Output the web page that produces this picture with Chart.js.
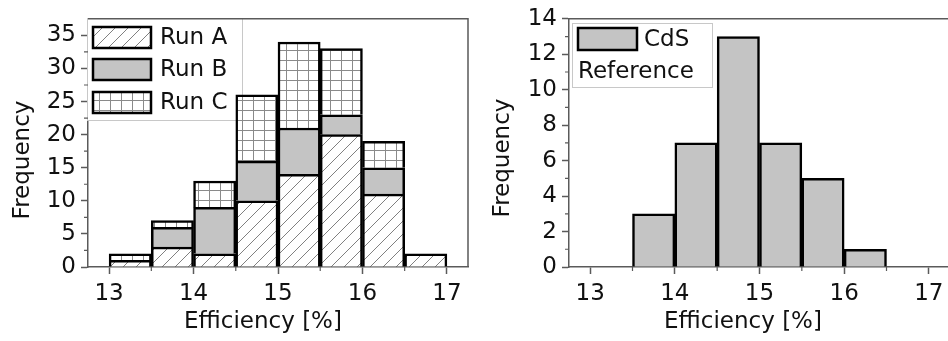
<!DOCTYPE html>
<html><head><meta charset="utf-8">
<script src="https://cdn.jsdelivr.net/npm/chart.js@4.4.0/dist/chart.umd.min.js"></script>
<style>
html,body{margin:0;padding:0;background:#fff;overflow:hidden;width:948px;height:341px}
#wrap{position:relative;width:948px;height:341px;overflow:hidden;background:#fff}
#c1{position:absolute;left:0;top:0}
#c2{position:absolute;left:474px;top:0}
</style></head><body>
<div id="wrap">
<canvas id="c1" width="474" height="341"></canvas>
<canvas id="c2" width="480" height="341"></canvas>
</div>
<script>
// ---- data ----
const binCenters = [13.25, 13.75, 14.25, 14.75, 15.25, 15.75, 16.25, 16.75];
const runA = [1, 3, 2, 10, 14, 20, 11, 2];
const runB = [0, 3, 7, 6, 7, 3, 4, 0];
const runC = [1, 1, 4, 10, 13, 10, 4, 0];
const cdsRef = [0, 3, 7, 13, 7, 5, 1, 0];
const xTicks = [13, 14, 15, 16, 17];
const yTicksLeft = [0, 5, 10, 15, 20, 25, 30, 35];
const yTicksRight = [0, 2, 4, 6, 8, 10, 12, 14];
const legendLeft = ['Run A', 'Run B', 'Run C'];
const legendRight = ['CdS', 'Reference'];
const xTitle = 'Efficiency [%]';
const yTitle = 'Frequency';

const FONT = '"DejaVu Sans", "Liberation Sans", Arial, sans-serif';
const GRAY = '#c4c4c4';
const AXIS = '#5a5a5a';

function diagPattern(ctx) {
  const s = 13, c = document.createElement('canvas');
  c.width = s; c.height = s;
  const g = c.getContext('2d');
  g.fillStyle = '#fff'; g.fillRect(0, 0, s, s);
  g.strokeStyle = '#808080'; g.lineWidth = 1;
  g.beginPath();
  g.moveTo(-1, s + 1); g.lineTo(s + 1, -1);
  g.moveTo(-2, 2); g.lineTo(2, -2);
  g.moveTo(s - 2, s + 2); g.lineTo(s + 2, s - 2);
  g.stroke();
  return ctx.createPattern(c, 'repeat');
}
function gridPattern(ctx) {
  const w = 11, h = 10, c = document.createElement('canvas');
  c.width = w; c.height = h;
  const g = c.getContext('2d');
  g.fillStyle = '#fff'; g.fillRect(0, 0, w, h);
  g.strokeStyle = '#8a8a8a'; g.lineWidth = 1;
  g.beginPath();
  g.moveTo(0.5, 0); g.lineTo(0.5, h);
  g.moveTo(0, 0.5); g.lineTo(w, 0.5);
  g.stroke();
  return ctx.createPattern(c, 'repeat');
}

const ctx1 = document.getElementById('c1').getContext('2d');
const ctx2 = document.getElementById('c2').getContext('2d');
const patA = diagPattern(ctx1);
const patC = gridPattern(ctx1);

function pts(arr) { return binCenters.map((x, i) => ({ x: x, y: arr[i] })); }

function makeScales(yMax, yTicks, yWidth) {
  return {
    x: {
      type: 'linear', min: 12.75, max: 17.25, stacked: true, offset: false,
      afterBuildTicks: s => { s.ticks = xTicks.map(v => ({ value: v })); },
      afterFit: s => { s.height = 74; },
      grid: { drawOnChartArea: false, drawTicks: true, tickLength: 7, tickColor: AXIS, tickWidth: 1.5, offset: false },
      border: { color: AXIS, width: 1.5 },
      ticks: { font: { family: FONT, size: 23 }, color: '#111', padding: 6, maxRotation: 0, autoSkip: false }
    },
    y: {
      type: 'linear', min: 0, max: yMax, stacked: true,
      afterBuildTicks: s => { s.ticks = yTicks.map(v => ({ value: v })); },
      afterFit: s => { s.width = yWidth; },
      grid: { drawOnChartArea: false, drawTicks: true, tickLength: 7, tickColor: AXIS, tickWidth: 1.5 },
      border: { color: AXIS, width: 1.5 },
      ticks: { font: { family: FONT, size: 23 }, color: '#111', padding: 5, autoSkip: false }
    }
  };
}

const framePlugin = {
  id: 'frame',
  afterDraw(chart, args, opts) {
    const { ctx, chartArea: a, scales } = chart;
    ctx.save();
    ctx.strokeStyle = AXIS; ctx.lineWidth = 1.5;
    ctx.beginPath();
    ctx.moveTo(a.left, a.top); ctx.lineTo(a.right, a.top); ctx.lineTo(a.right, a.bottom);
    ctx.stroke();
    // minor ticks
    ctx.lineWidth = 1.2;
    ctx.beginPath();
    const xt = xTicks;
    for (let i = 0; i < xt.length - 1; i++) {
      const px = scales.x.getPixelForValue((xt[i] + xt[i + 1]) / 2);
      ctx.moveTo(px, a.bottom); ctx.lineTo(px, a.bottom + 4);
    }
    const yt = opts.yTicks;
    for (let i = 0; i < yt.length - 1; i++) {
      const py = scales.y.getPixelForValue((yt[i] + yt[i + 1]) / 2);
      ctx.moveTo(a.left, py); ctx.lineTo(a.left - 4, py);
    }
    ctx.stroke();
    // axis titles
    ctx.fillStyle = '#111';
    ctx.font = '23px ' + FONT;
    ctx.textAlign = 'center'; ctx.textBaseline = 'alphabetic';
    ctx.fillText(xTitle, opts.xTitleX, 328);
    ctx.save();
    ctx.translate(opts.yTitleX, opts.yTitleY);
    ctx.rotate(-Math.PI / 2);
    ctx.fillText(yTitle, 0, 0);
    ctx.restore();
    ctx.restore();
  }
};

const legendPlugin = {
  id: 'boxLegend',
  beforeDatasetsDraw(chart, args, opts) {
    const ctx = chart.ctx;
    ctx.save();
    const f = opts.frame;
    ctx.fillStyle = '#fff';
    ctx.fillRect(f[0], f[1], f[2], f[3]);
    ctx.strokeStyle = '#c8c8c8'; ctx.lineWidth = 1;
    ctx.strokeRect(f[0] + 0.5, f[1] + 0.5, f[2], f[3]);
    ctx.font = '23px ' + FONT;
    ctx.textBaseline = 'middle'; ctx.textAlign = 'left';
    opts.items.forEach(it => {
      if (it.box) {
        ctx.fillStyle = it.fill;
        ctx.fillRect(it.box[0], it.box[1], it.box[2], it.box[3]);
        ctx.strokeStyle = '#000'; ctx.lineWidth = 2.5;
        ctx.strokeRect(it.box[0], it.box[1], it.box[2], it.box[3]);
      }
      ctx.fillStyle = '#111';
      ctx.fillText(it.text, it.tx, it.ty);
    });
    ctx.restore();
  }
};

const barCommon = { borderColor: '#000', borderWidth: 2.5, barPercentage: 1, categoryPercentage: 1, borderSkipped: 'start' };

new Chart(ctx1, {
  type: 'bar',
  data: {
    datasets: [
      Object.assign({ label: legendLeft[0], data: pts(runA), backgroundColor: patA }, barCommon),
      Object.assign({ label: legendLeft[1], data: pts(runB), backgroundColor: GRAY }, barCommon),
      Object.assign({ label: legendLeft[2], data: pts(runC), backgroundColor: patC }, barCommon)
    ]
  },
  options: {
    responsive: false, animation: false,
    layout: { padding: { top: 15, right: 6, left: 0, bottom: 0 } },
    scales: makeScales(37.5, yTicksLeft, 88),
    plugins: {
      legend: { display: false }, tooltip: { enabled: false },
      frame: { yTicks: yTicksLeft, xTitleX: 263, yTitleX: 29, yTitleY: 160 },
      boxLegend: {
        frame: [87, 18, 155, 102],
        items: [
          { box: [93, 27, 58, 21], fill: patA, text: legendLeft[0], tx: 160, ty: 38 },
          { box: [93, 59, 58, 21], fill: GRAY, text: legendLeft[1], tx: 160, ty: 70 },
          { box: [93, 92, 58, 21], fill: patC, text: legendLeft[2], tx: 160, ty: 103 }
        ]
      }
    }
  },
  plugins: [legendPlugin, framePlugin]
});

new Chart(ctx2, {
  type: 'bar',
  data: {
    datasets: [
      Object.assign({ label: legendRight.join(' '), data: pts(cdsRef), backgroundColor: GRAY }, barCommon)
    ]
  },
  options: {
    responsive: false, animation: false,
    layout: { padding: { top: 15, right: 4, left: 0, bottom: 0 } },
    scales: makeScales(14, yTicksRight, 95),
    plugins: {
      legend: { display: false }, tooltip: { enabled: false },
      frame: { yTicks: yTicksRight, xTitleX: 269, yTitleX: 35, yTitleY: 158 },
      boxLegend: {
        frame: [98, 23, 140, 64],
        items: [
          { box: [104, 28, 59, 22], fill: GRAY, text: legendRight[0], tx: 170, ty: 40 },
          { text: legendRight[1], tx: 104, ty: 72 }
        ]
      }
    }
  },
  plugins: [legendPlugin, framePlugin]
});
</script>
</body></html>
